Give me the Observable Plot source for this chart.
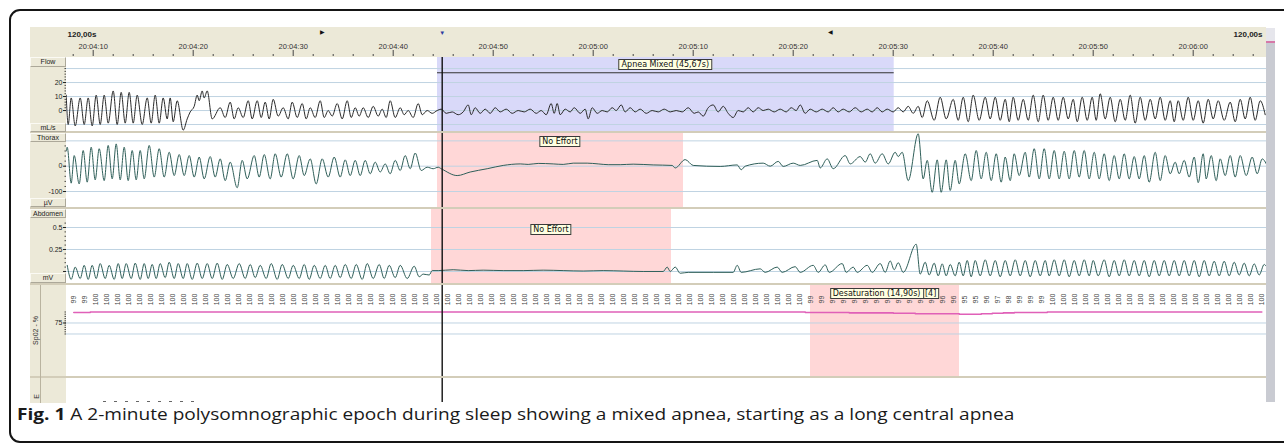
<!DOCTYPE html>
<html><head><meta charset="utf-8">
<script src="https://cdn.jsdelivr.net/npm/d3@7"></script>
<script src="https://cdn.jsdelivr.net/npm/@observablehq/plot@0.6"></script>
<style>
html,body{margin:0;padding:0;background:#fff;}
#root{position:relative;width:1284px;height:444px;overflow:hidden;background:#fff;font-family:"Liberation Sans",Arial,sans-serif;}
.a{position:absolute;}
.frame{left:9px;top:9px;width:1320px;height:434px;border:2px solid #151515;border-radius:11px;box-sizing:border-box;}
.beige{background:#ece9d8;}
.sep{background:#d3cdb9;height:2px;left:30px;width:1236px;}
.lbl{left:30px;width:36px;font-size:7px;text-align:center;color:#222;background:#ece9d8;border-top:1px solid #fbfaf4;border-left:1px solid #fbfaf4;border-bottom:1px solid #aca899;border-right:1px solid #aca899;box-sizing:border-box;}
.evt{font-family:"DejaVu Sans",sans-serif;font-size:8px;line-height:9px;background:#ffffe1;border:1px solid #3a3a3a;padding:0 2px;white-space:nowrap;transform:translateX(-50%);color:#111;}
.rot{font-size:7px;color:#333;text-align:center;transform:rotate(-90deg);white-space:nowrap;}
.cap{left:17px;top:404px;font-family:"Open Sans",sans-serif;font-size:15.5px;line-height:20px;color:#1a1a1a;white-space:nowrap;transform:scaleX(1.23);transform-origin:0 0;}
</style></head><body><div id="root"></div>
<script>
// ---------------- data ----------------
const windowStart = 7.33, windowEnd = 127.33; // seconds after 20:04:00
const windowLabel = "120,00s";
const timeTicks = [10,20,30,40,50,60,70,80,90,100,110,120];
const timeLabels = ["20:04:10","20:04:20","20:04:30","20:04:40","20:04:50","20:05:00","20:05:10","20:05:20","20:05:30","20:05:40","20:05:50","20:06:00"];
const markerTimes = [32.9, 44.9, 83.7];
const markerSymbols = ["▶","▼","◀"];
const cursorTime = [44.9];

const channelNames = ["Flow","Thorax","Abdomen","Sp02 - %","E"];
const channelUnits = ["mL/s","µV","mV"];

const apneaEvents = [{start: 44.43, end: 90.10, label: "Apnea Mixed (45,67s)"}];
const thoraxEvents = [{start: 44.43, end: 69.03, label: "No Effort"}];
const abdomenEvents = [{start: 43.83, end: 67.83, label: "No Effort"}];
const desatEvents = [{start: 81.73, end: 96.63, label: "Desaturation (14,90s)", drop: 4}];

const flowTicks = [20, 10, 0];
const flowGrid = [30, 20, 10, 0, -10];
const thoraxTicks = [0, -100];
const thoraxGrid = [100, 0, -100];
const abdomenTicks = [0.5, 0.25, 0];
const abdomenGrid = [0.5, 0.25, 0];
const spo2Ticks = [75];
const spo2Grid = [75, 50];

// Flow (mL/s): [time s, value]
const flow = [
[7.3,11],[7.5,-10],[7.8,9],[8.2,-11],[8.7,9],[9.1,-10],[9.5,9],[9.9,-11],[10.3,11],[10.7,-10],
[11.1,11],[11.5,-9],[12.0,14],[12.4,-10],[12.8,13],[13.2,-9],[13.6,13],[14.0,-9],[14.4,11],[14.9,-10],
[15.4,9],[15.8,-9],[16.2,11],[16.6,-9],[17.0,9],[17.4,-6],[17.7,9],[18.0,-8],[18.4,7],[19.0,-14],
[19.4,-6],[19.7,-1],[20.1,3],[20.4,11],[20.6,7],[20.9,14],[21.1,9],[21.4,14],[21.9,-6],
[22.7,2],[23.2,-5],[23.7,6],[24.1,-6],[24.5,2],[25.0,-5],[25.5,7],[25.9,-6],[26.4,7],[26.8,-5],
[27.2,6],[27.6,-6],[28.0,8],[28.5,-4],[29.0,2],[29.5,-6],[29.9,6],[30.4,-5],[30.9,5],[31.3,-6],
[31.7,2],[32.2,-5],[32.7,7],[33.1,-5],[33.5,0],[33.9,-4],[34.4,5],[34.9,-6],[35.4,7],[35.8,-5],
[36.2,2],[36.6,-4],[37.0,2],[37.5,-5],[38.0,3],[38.5,-4],[38.9,1],[39.3,-5],[39.7,7],[40.2,-5],
[40.7,2],[41.1,-3],[41.5,0],[42.0,-5],[42.5,5],[42.9,-3],[43.4,0],[43.9,-2],[44.4,0],
[44.8,1],[45.3,-2],[45.9,-1],[46.5,-3],[47.0,-1],[47.5,4],[47.8,-3],[48.2,2],[48.7,-2],[49.2,1],
[49.7,-2],[50.2,2],[50.7,-1],[51.3,1],[51.9,-2],[52.5,0],[53.1,-1],[53.7,1],[54.3,-2],[54.8,0],
[55.3,-3],[55.8,5],[56.1,-2],[56.4,5],[56.7,-3],[57.2,1],[57.7,-1],[58.1,2],[58.7,-2],[59.2,1],
[59.5,-6],[59.9,2],[60.4,-2],[60.9,0],[61.4,-1],[61.9,2],[62.3,0],[62.8,4],[63.2,-1],[63.7,2],
[64.2,-1],[64.7,1],[65.3,-2],[65.9,0],[66.5,-1],[67.1,1],[67.7,-1],[68.3,0],[68.9,-1],[69.5,2],
[70.1,-2],[70.5,-1],[71.0,-4],[71.5,2],[72.0,4],[72.5,-1],[73.0,3],[73.5,-2],[74.0,-5],[74.5,0],
[75.0,-1],[75.5,2],[76.0,-1],[76.5,2],[77.0,0],[77.5,1],[78.1,-1],[78.7,1],[79.3,-1],[79.8,2],
[80.3,0],[80.7,4],[81.2,-2],[81.7,1],[82.3,-1],[82.9,1],[83.5,-1],[84.0,2],[84.5,-1],[85.0,1],
[85.6,-1],[86.2,2],[86.8,-1],[87.4,1],[87.9,-1],[88.4,2],[88.9,-1],[89.4,1],[90.0,-1],
[90.5,2],[91.0,-1],[91.5,3],[92.0,-2],[92.5,3],[92.9,-5],
[93.4,7],[94.1,-7],[94.7,9.5],[95.3,-6],[96.0,8],[96.5,-7],[97.0,9.5],[97.5,-8],[98.0,11],[98.6,-7],
[99.2,9.5],[99.7,-6],[100.2,9.5],[100.7,-7],[101.2,8],[101.6,-8],[102.0,9.5],[102.5,-7],[103.0,8],[103.5,-7],
[104.0,11],[104.5,-8],[105.0,11],[105.5,-7],[106.0,9.5],[106.5,-7],[107.0,9.5],[107.5,-6],[108.0,8],[108.4,-8],
[108.9,9.5],[109.4,-7],[109.9,9.5],[110.3,-7],[110.7,12],[111.2,-6],[111.7,9.5],[112.2,-8],[112.7,8],[113.2,-7],
[113.7,11],[114.2,-9],[114.7,9.5],[115.2,-7],[115.7,8],[116.2,-6],[116.7,9.5],[117.2,-7],[117.7,7],[118.1,-8],
[118.5,7],[119.0,-7],[119.5,9.5],[120.0,-7],[120.5,7],[121.0,-9],[121.5,8],[122.0,-6],[122.5,7],[123.1,-7],
[123.7,6],[124.2,-8],[124.7,8],[125.2,-6],[125.7,9.5],[126.2,-7],[126.7,7],[127.2,-3]
];

// Thorax (µV)
const thorax = [
[7.3,60],[7.4,75],[7.8,-67],[8.1,42],[8.6,-70],[9.0,62],[9.4,-63],[9.8,75],[10.2,-54],[10.6,69],
[11.1,-57],[11.5,82],[11.9,-50],[12.3,88],[12.7,-54],[13.1,75],[13.5,-57],[13.9,62],[14.3,-54],[14.7,62],
[15.1,-50],[15.6,82],[16.1,-43],[16.6,69],[17.1,-43],[17.6,55],[18.1,-37],[18.6,46],[19.1,-37],[19.6,42],
[20.1,-43],[20.6,36],[21.1,-50],[21.7,38],[22.2,-43],[22.7,29],[23.2,-57],[23.7,16],[24.4,-85],[24.9,23],
[25.4,-50],[26.1,42],[26.6,-43],[27.1,46],[27.7,-50],[28.2,49],[28.8,-43],[29.4,49],[30.0,-50],[30.6,42],
[31.1,-37],[31.7,29],[32.3,-70],[32.9,29],[33.5,-43],[34.1,36],[34.7,-43],[35.2,25],[35.7,-37],[36.2,23],
[36.7,-37],[37.2,23],[37.7,-30],[38.2,16],[38.7,-23],[39.2,9],[39.7,-30],[40.2,23],[40.7,-17],[41.2,42],
[41.7,-10],[42.2,52],[42.8,-17],[43.4,-4],[44.0,-10],[44.5,-4],
[44.8,-10],[46.4,-37],[47.7,-23],[49.4,-10],[51.0,3],[52.7,9],[53.5,7],[54.5,11],[56.0,9],[57.0,7],
[58.0,12],[59.4,12],[60.5,9],[61.5,6],[62.7,6],[64.0,8],[66.0,5],[67.9,3],[68.2,-7],[69.2,26],
[70.0,3],[72.7,-1],[74.4,5],[74.8,-14],[75.2,0],[77.0,12],[77.7,0],[78.5,19],[79.0,-1],[80.0,12],
[80.7,3],[82.4,23],[82.7,-7],[83.4,29],[84.0,-10],[85.2,42],[85.7,9],[86.7,38],[87.2,16],[87.7,49],
[88.2,12],[88.9,49],[89.5,9],[90.2,55],[90.5,38],[90.9,55],[91.5,-57],[92.5,128],[93.0,-50],[93.4,23],
[93.9,-103],[94.4,25],[94.8,-103],[95.3,25],[95.7,-96],[96.2,23],[96.6,-70],
[97.2,49],[97.8,-57],[98.3,62],[98.8,-50],[99.3,55],[99.8,-57],[100.3,49],[100.8,-63],[101.2,36],[101.7,-57],
[102.1,49],[102.6,-37],[103.2,55],[103.6,-43],[104.1,69],[104.6,-50],[105.1,69],[105.6,-50],[106.1,62],[106.6,-50],
[107.1,59],[107.6,-50],[108.1,62],[108.6,-43],[109.1,62],[109.6,-50],[110.1,55],[110.6,-50],[111.1,49],[111.6,-57],
[112.1,42],[112.6,-50],[113.1,49],[113.6,-50],[114.1,38],[114.6,-50],[115.1,42],[115.6,-63],[116.2,55],[116.7,-57],
[117.2,42],[117.7,-30],[118.2,16],[118.6,-30],[119.1,23],[119.6,-43],[120.1,36],[120.5,-65],[121.0,49],[121.3,-50],
[121.8,42],[122.3,-57],[122.7,29],[123.2,-37],[123.7,42],[124.2,-43],[124.7,42],[125.3,-37],[125.9,36],[126.4,-30],
[126.9,29],[127.3,10]
];

// Abdomen (mV)
const abdomen = [
[7.4,0.07],[7.8,-0.09],[8.2,0.05],[8.7,-0.08],[9.1,0.07],[9.5,-0.09],[9.9,0.07],[10.3,-0.08],[10.7,0.09],[11.2,-0.08],
[11.6,0.07],[12.1,-0.09],[12.5,0.09],[12.9,-0.08],[13.3,0.09],[13.8,-0.08],[14.2,0.095],[14.7,-0.09],[15.1,0.09],[15.5,-0.08],
[15.9,0.08],[16.3,-0.08],[16.7,0.09],[17.2,-0.07],[17.6,0.105],[18.1,-0.08],[18.5,0.09],[19.0,-0.08],[19.4,0.09],[19.9,-0.09],
[20.4,0.095],[20.9,-0.08],[21.4,0.09],[21.9,-0.08],[22.4,0.095],[22.9,-0.09],[23.4,0.08],[24.0,-0.08],[24.6,0.09],[25.2,-0.08],
[25.7,0.08],[26.2,-0.07],[26.7,0.07],[27.3,-0.08],[27.8,0.09],[28.4,-0.09],[28.9,0.08],[29.5,-0.08],[30.0,0.07],[30.6,-0.08],
[31.1,0.08],[31.6,-0.09],[32.1,0.07],[32.7,-0.08],[33.2,0.07],[33.7,-0.08],[34.2,0.07],[34.7,-0.07],[35.2,0.08],[35.8,-0.08],
[36.3,0.08],[36.9,-0.09],[37.4,0.09],[38.0,-0.08],[38.6,0.08],[39.1,-0.08],[39.6,0.07],[40.2,-0.07],[40.7,0.07],[41.4,-0.08],
[42.1,0.06],[42.6,-0.06],[43.0,-0.03],[43.6,-0.04],[43.9,0.01],[44.5,0.01],[46.0,0.02],[47.5,0.01],[49.0,0.015],[51.0,0.01],
[53.0,0.01],[55.0,0.015],[57.0,0.01],[59.0,0.005],[61.0,0.01],[63.0,0.005],[65.0,0.0],[67.0,0.0],[67.4,0.05],[67.7,0.0],
[68.2,0.05],[68.7,-0.02],[69.5,-0.01],[72.0,-0.01],[74.0,-0.01],[74.4,0.07],[74.8,-0.01],[76.7,0.03],[77.2,-0.01],[78.4,0.05],
[78.9,-0.01],[80.2,0.055],[80.7,-0.01],[82.0,0.07],[82.5,-0.01],[83.2,0.075],[83.6,-0.01],[84.9,0.09],[85.3,-0.01],[86.0,0.05],
[86.4,-0.01],[87.4,0.07],[87.9,-0.01],[88.7,0.09],[89.2,-0.01],[89.7,0.12],[90.1,0.02],[90.5,0.1],[91.0,-0.01],[92.3,0.31],
[92.7,-0.03],
[93.2,0.106],[93.6,-0.04],[94.1,0.095],[94.5,-0.05],[94.9,0.087],[95.3,-0.05],[95.7,0.08],[96.2,-0.05],[96.6,0.106],[97.0,-0.05],
[97.4,0.125],[97.8,-0.06],[98.2,0.125],[98.7,-0.05],[99.2,0.133],[99.7,-0.05],[100.2,0.125],[100.7,-0.06],[101.2,0.125],[101.7,-0.05],
[102.2,0.133],[102.7,-0.05],[103.2,0.125],[103.7,-0.06],[104.2,0.125],[104.7,-0.05],[105.2,0.125],[105.6,-0.05],[106.1,0.133],[106.6,-0.05],
[107.1,0.133],[107.6,-0.06],[108.1,0.125],[108.6,-0.05],[109.1,0.133],[109.6,-0.05],[110.0,0.125],[110.5,-0.05],[111.1,0.133],[111.6,-0.06],
[112.1,0.125],[112.6,-0.05],[113.1,0.133],[113.6,-0.05],[114.1,0.125],[114.6,-0.05],[115.1,0.125],[115.6,-0.06],[116.1,0.125],[116.6,-0.05],
[117.1,0.125],[117.6,-0.05],[118.1,0.125],[118.6,-0.05],[119.1,0.125],[119.6,-0.05],[120.1,0.125],[120.6,-0.06],[121.1,0.125],[121.6,-0.05],
[122.1,0.117],[122.6,-0.05],[123.1,0.117],[123.6,-0.05],[124.1,0.106],[124.6,-0.04],[125.1,0.095],[125.6,-0.05],[126.1,0.087],[126.6,-0.04],
[127.1,0.08],[127.3,0.06]
];

// SpO2 (%) read-outs, one every spo2Interval seconds from spo2Start
const spo2Start = 8.06, spo2Interval = 1.1;
const spo2Values = [99,99,
100,100,100,100,100,100,100,100,100,100,100,100,100,100,100,100,100,100,100,100,
100,100,100,100,100,100,100,100,100,100,100,100,100,100,100,100,100,100,100,100,
100,100,100,100,100,100,100,100,100,100,100,100,100,100,100,100,100,100,100,100,
100,100,100,100,100,
99,99,99,99,98,98,98,98,97,97,96,96,96,96,95,95,96,97,98,99,99,99,
100,100,100,100,100,100,100,100,100,100,100,100,100,100,100,100,100,100,100,100];
const spo2 = spo2Values.map((v, i) => ({t: spo2Start + i * spo2Interval, v}));

// ---------------- layout ----------------
const root = document.getElementById("root");
function div(cls, css, html) {
  const d = document.createElement("div");
  d.className = "a " + cls;
  Object.assign(d.style, css);
  if (html != null) d.innerHTML = html;
  root.appendChild(d);
  return d;
}
const px = v => v + "px";

div("frame", {});
div("", {left: px(30), top: px(27), width: px(1236), height: px(376), background: "#fff"});
div("beige", {left: px(30), top: px(27), width: px(1236), height: px(30)});
div("beige", {left: px(30), top: px(57), width: px(36), height: px(346)});
// scrollbar
div("", {left: px(1266), top: px(28), width: px(9), height: px(13), background: "#e6e6ec"});
div("", {left: px(1266), top: px(41), width: px(9), height: px(2), background: "#d678a8"});
div("", {left: px(1266), top: px(43), width: px(9), height: px(359), background: "#c9cbd2"});

const font = "'Liberation Sans', Arial, sans-serif";
const waveColor = "#2f5f59";
function panel(top, height, yDomain, marks) {
  const p = Plot.plot({
    width: 1266, height, marginLeft: 66, marginRight: 0, marginTop: 0, marginBottom: 0,
    x: {domain: [windowStart, windowEnd], axis: null},
    y: {domain: yDomain, axis: null},
    style: {background: "transparent", color: "#222", fontFamily: font, fontSize: "7px", overflow: "visible"},
    marks
  });
  Object.assign(p.style, {position: "absolute", left: "0px", top: px(top)});
  root.appendChild(p);
  return p;
}
const yAxis = (ticks, fmt) => Plot.axisY(ticks, {anchor: "left", tickSize: 3, tickPadding: 1, tickFormat: fmt, label: null});
const yMinor = (ticks) => Plot.axisY(ticks, {anchor: "left", tickSize: 1.5, tickFormat: () => "", label: null, strokeOpacity: 0.8});
const gridMark = g => Plot.ruleY(g, {stroke: "#bfd3e2", strokeWidth: 1});
const cursorMark = Plot.ruleX(cursorTime, {stroke: "#111", strokeWidth: 1.4});
const eventRect = (ev, color) => Plot.rect(ev, {x1: "start", x2: "end", fill: color});
const wave = (data, color) => Plot.line(data, {x: d => d[0], y: d => d[1], stroke: color, strokeWidth: 1, curve: "monotone-x", clip: true});

// header
const header = Plot.plot({
  width: 1266, height: 30, marginLeft: 66, marginRight: 0, marginTop: 0, marginBottom: 0,
  x: {domain: [windowStart, windowEnd], axis: null},
  style: {background: "transparent", color: "#222", fontFamily: font, fontSize: "7px", overflow: "visible"},
  marks: [
    Plot.tickX(d3.range(8, 128, 2).filter(d => d % 10 !== 0), {x: d => d, insetTop: 27, insetBottom: 1, stroke: "#444"}),
    Plot.tickX(timeTicks, {x: d => d, insetTop: 23, insetBottom: 1, stroke: "#444"}),
    Plot.text(timeTicks, {x: d => d, text: (d, i) => timeLabels[i], frameAnchor: "top", dy: 19, lineAnchor: "middle", fill: "#333", fontSize: 7.5}),
    Plot.text(markerTimes.filter((d, i) => i !== 1), {x: d => d, text: d => markerSymbols[markerTimes.indexOf(d)], frameAnchor: "top", dy: 5, lineAnchor: "middle", fill: "#111", fontSize: 6}),
    Plot.text([markerTimes[1]], {x: d => d, text: () => markerSymbols[1], frameAnchor: "top", dy: 6, lineAnchor: "middle", fill: "#2b3a9e", fontSize: 6}),
    Plot.text([windowLabel], {frameAnchor: "top-left", dx: 1, dy: 7, lineAnchor: "middle", textAnchor: "start", text: d => d, fontWeight: "bold", fontSize: 8, fill: "#222"}),
    Plot.text([windowLabel], {frameAnchor: "top-right", dx: -4, dy: 7, lineAnchor: "middle", textAnchor: "end", text: d => d, fontWeight: "bold", fontSize: 8, fill: "#222"})
  ]
});
Object.assign(header.style, {position: "absolute", left: "0px", top: px(27)});
root.appendChild(header);

const apneaBarLevel = 27; // mL/s level of the event bar
const pFlow = panel(57, 75, [-15.7, 37.9], [
  eventRect(apneaEvents, "#d9d9f9"),
  gridMark(flowGrid),
  wave(flow, "#2a2a2a"),
  Plot.ruleY(apneaEvents, {x1: "start", x2: "end", y: () => apneaBarLevel, stroke: "#333", strokeWidth: 1.2}),
  cursorMark,
  yMinor(d3.range(0, 31, 2)),
  yAxis(flowTicks, d => String(d))
]);
const pThorax = panel(132, 76, [-167, 133], [
  eventRect(thoraxEvents, "#ffd7d7"),
  gridMark(thoraxGrid),
  wave(thorax, waveColor),
  cursorMark,
  yMinor(d3.range(-100, 100, 20)),
  yAxis(thoraxTicks, d => String(d))
]);
const pAbd = panel(208, 76, [-0.148, 0.716], [
  eventRect(abdomenEvents, "#ffd7d7"),
  gridMark(abdomenGrid),
  wave(abdomen, waveColor),
  cursorMark,
  yMinor(d3.range(0, 0.56, 0.05)),
  yAxis(abdomenTicks, d => d === 0 ? "" : String(d))
]);
const pSpo2 = panel(284, 93, [-48.9, 162.5], [
  eventRect(desatEvents, "#ffd7d7"),
  gridMark(spo2Grid),
  Plot.line(spo2, {x: "t", y: "v", stroke: "#e060b8", strokeWidth: 1.6, curve: "step", clip: true}),
  Plot.text(spo2, {x: "t", text: d => String(d.v), frameAnchor: "top", dy: 15, lineAnchor: "middle", rotate: -90, fontSize: 7, fill: "#444"}),
  cursorMark,
  yMinor(d3.range(50, 101, 5)),
  yAxis(spo2Ticks, d => String(d))
]);
const pE = panel(377, 25, [0, 1], [cursorMark]);

// separators & column dividers
[131, 207, 283, 376].forEach(y => div("sep", {top: px(y)}));
div("", {left: px(40), top: px(285), width: px(1), height: px(118), background: "#b9b39f"});

// channel labels
div("lbl", {top: px(57), height: px(10), lineHeight: px(8)}, channelNames[0]);
div("lbl", {top: px(123), height: px(9), lineHeight: px(7)}, channelUnits[0]);
div("lbl", {top: px(133), height: px(9), lineHeight: px(7)}, channelNames[1]);
div("lbl", {top: px(198), height: px(9), lineHeight: px(7)}, channelUnits[1]);
div("lbl", {top: px(209), height: px(9), lineHeight: px(7)}, channelNames[2]);
div("lbl", {top: px(273), height: px(10), lineHeight: px(8)}, channelUnits[2]);
div("rot", {left: px(5), top: px(326), width: px(60), height: px(9), lineHeight: px(9)}, channelNames[3]);
div("rot", {left: px(6), top: px(392), width: px(60), height: px(9), lineHeight: px(9)}, channelNames[4]);
div("", {left: px(103), top: px(401), width: px(96), height: px(1), background: "repeating-linear-gradient(90deg,#666 0 3px,transparent 3px 11px)"});

// event labels
function evLabel(plot, ev, top, html) {
  const sx = plot.scale("x");
  div("evt", {left: px(sx.apply((ev.start + ev.end) / 2)), top: px(top)}, html);
}
evLabel(pFlow, apneaEvents[0], 59, apneaEvents[0].label);
evLabel(pThorax, thoraxEvents[0], 136, thoraxEvents[0].label);
evLabel(pAbd, abdomenEvents[0], 224, abdomenEvents[0].label);
evLabel(pSpo2, desatEvents[0], 288, desatEvents[0].label + ' <span style="border-left:1px solid #3a3a3a;padding-left:1px">[' + desatEvents[0].drop + ']</span>');

// caption
div("cap", {}, "<b>Fig. 1</b> A 2-minute polysomnographic epoch during sleep showing a mixed apnea, starting as a long central apnea");
</script>
</body></html>
